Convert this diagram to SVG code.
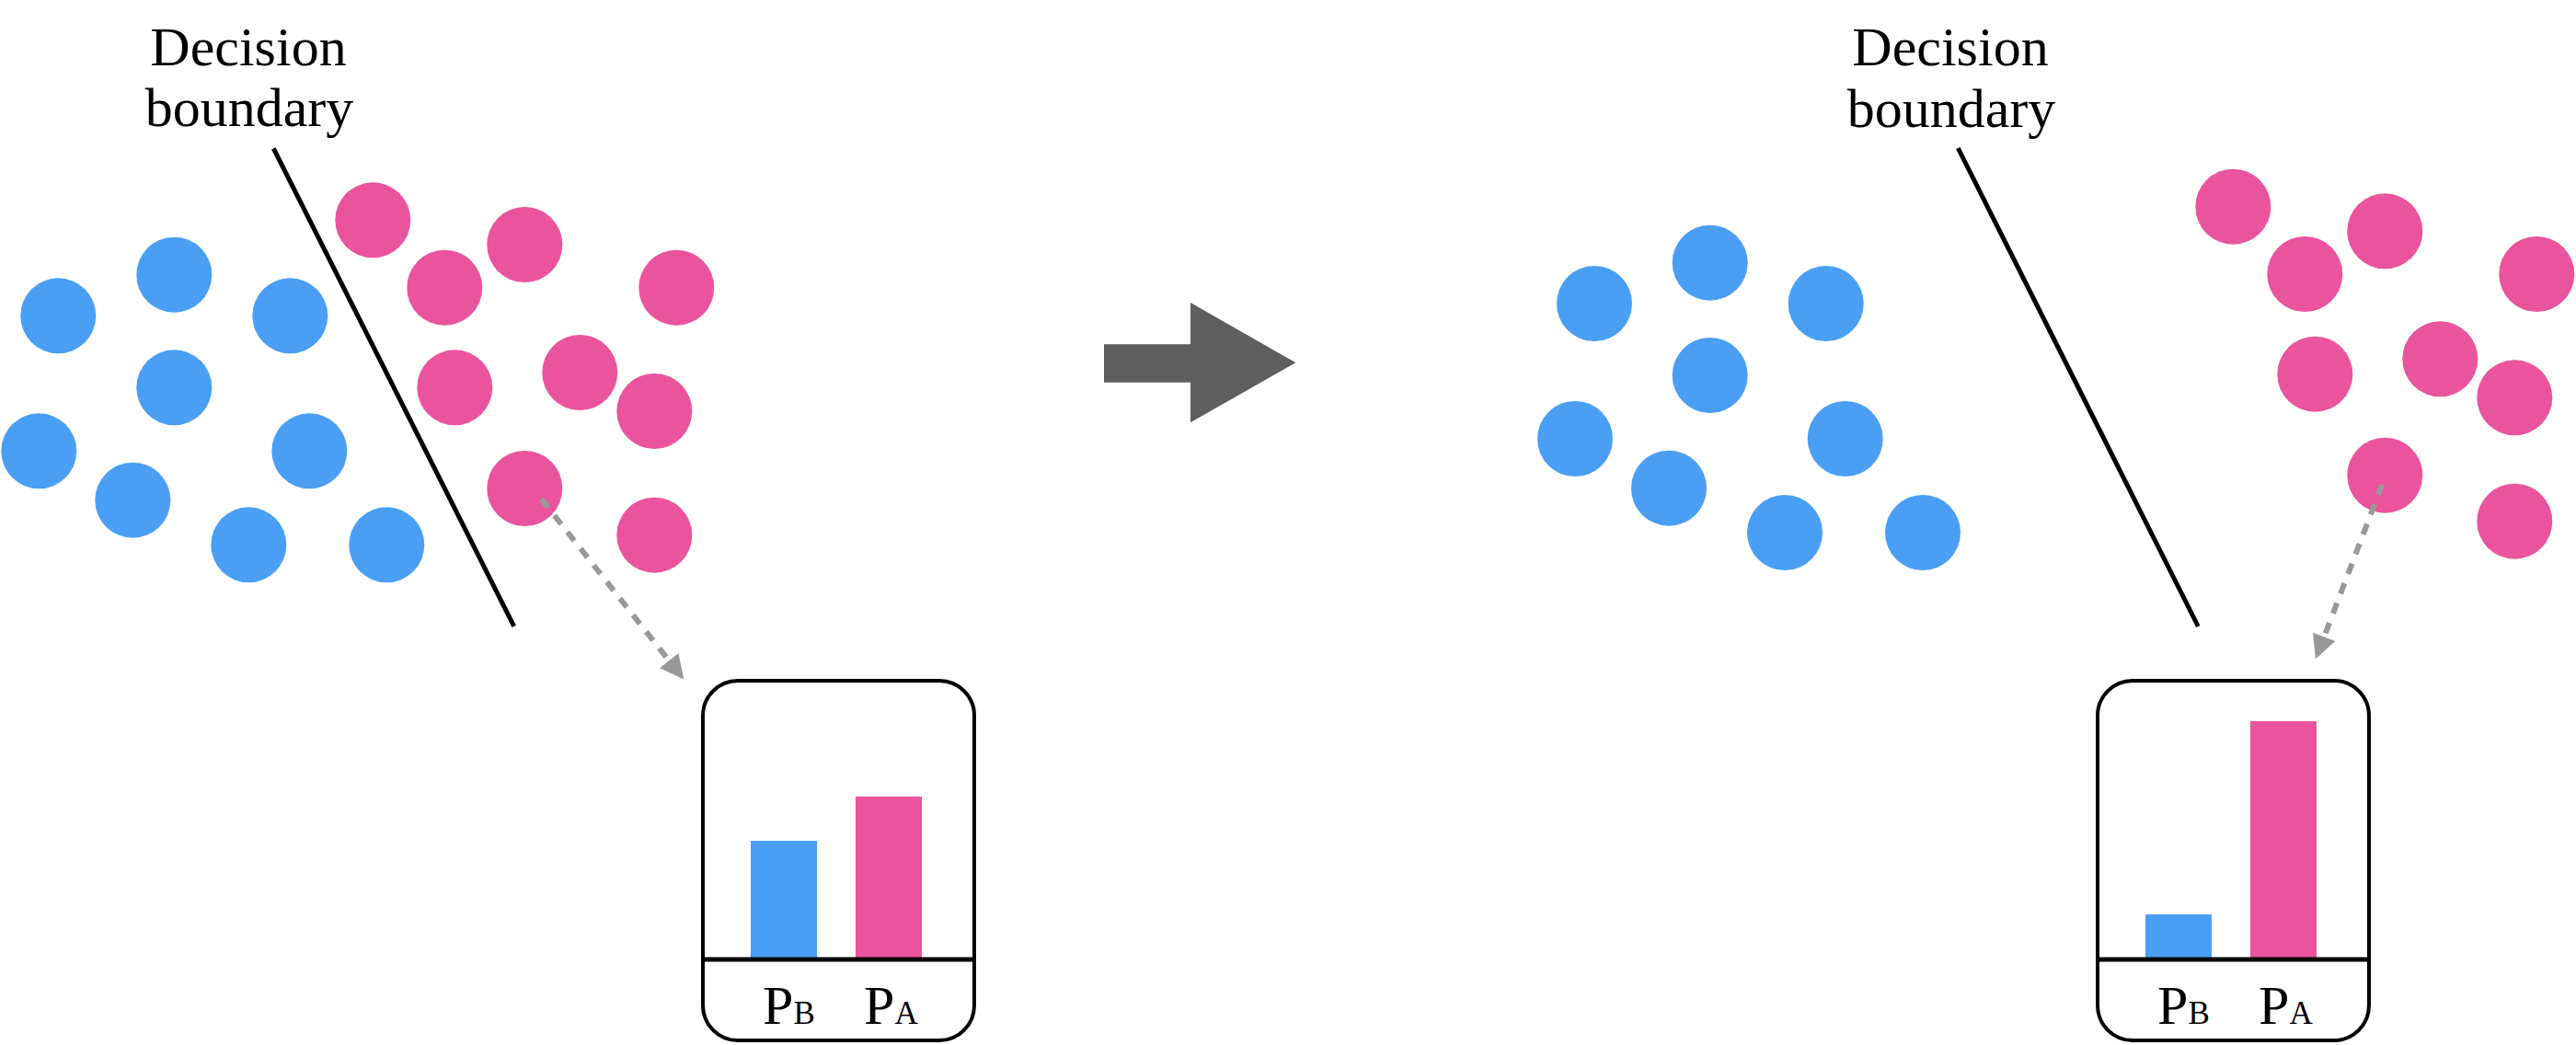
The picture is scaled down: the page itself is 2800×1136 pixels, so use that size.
<svg xmlns="http://www.w3.org/2000/svg" width="2800" height="1136" viewBox="0 0 2800 1136">
  <style>
    .lbl { font-family: "Liberation Serif", "Times New Roman", serif; font-size: 60px; fill: #000; text-anchor: middle; }
    .pl { font-family: "Liberation Serif", "Times New Roman", serif; font-size: 60px; fill: #000; }
    .sub { font-size: 35px; }
    .blue { fill: #4A9FF5; }
    .pink { fill: #EA549D; }
    .boundary { stroke: #000; stroke-width: 5; fill: none; }
    .frame { fill: #fff; stroke: #000; stroke-width: 4; }
    .axis { stroke: #000; stroke-width: 5; }
    .dash { stroke: #999; stroke-width: 6; stroke-dasharray: 12 11; fill: none; marker-end: url(#ah); }
  </style>
  <defs>
    <marker id="ah" viewBox="0 0 26 26" refX="0" refY="13" markerWidth="26" markerHeight="26" markerUnits="userSpaceOnUse" orient="auto">
      <path d="M0,0 L26,13 L0,26 Z" fill="#999"/>
    </marker>
    <circle id="dot" r="41"/>
  </defs>
  <rect width="2800" height="1136" fill="#fff"/>

  <g id="left-panel">
    <g id="left-label">
      <text class="lbl" x="270" y="71">Decision</text>
      <text class="lbl" x="271" y="137">boundary</text>
    </g>
    <line id="left-boundary" class="boundary" x1="297.3" y1="161.3" x2="558.7" y2="680.8"/>
    <g id="left-class-b">
      <use href="#dot" class="blue" x="63.3" y="343.3"/>
      <use href="#dot" class="blue" x="189.3" y="298.7"/>
      <use href="#dot" class="blue" x="315.3" y="343.3"/>
      <use href="#dot" class="blue" x="189.3" y="421.3"/>
      <use href="#dot" class="blue" x="42.3" y="490.3"/>
      <use href="#dot" class="blue" x="336.3" y="490.3"/>
      <use href="#dot" class="blue" x="144.3" y="543.7"/>
      <use href="#dot" class="blue" x="270.3" y="592.3"/>
      <use href="#dot" class="blue" x="420.3" y="592.3"/>
    </g>
    <g id="left-class-a">
      <use href="#dot" class="pink" x="405.3" y="239.3"/>
      <use href="#dot" class="pink" x="483.3" y="312.7"/>
      <use href="#dot" class="pink" x="570.3" y="266"/>
      <use href="#dot" class="pink" x="735.3" y="312.7"/>
      <use href="#dot" class="pink" x="494.3" y="421.3"/>
      <use href="#dot" class="pink" x="630.3" y="405"/>
      <use href="#dot" class="pink" x="711.3" y="447"/>
      <use href="#dot" class="pink" x="570.3" y="531"/>
      <use href="#dot" class="pink" x="711.3" y="581.7"/>
    </g>
    <g id="left-chart">
      <rect class="frame" x="764" y="740" width="295" height="391" rx="38"/>
      <rect class="blue" x="816" y="914" width="72" height="130"/>
      <rect class="pink" x="930" y="866" width="72" height="176"/>
      <line class="axis" x1="765" y1="1043" x2="1058" y2="1043"/>
      <text class="pl" x="829" y="1113">P<tspan class="sub">B</tspan></text>
      <text class="pl" x="939" y="1113">P<tspan class="sub">A</tspan></text>
    </g>
  </g>

  <g id="transition-arrow">
    <polygon points="1200,374.3 1294,374.3 1294,329 1408.3,394.3 1294,459.3 1294,415.7 1200,415.7" fill="#5E5E5E"/>
  </g>

  <g id="right-panel">
    <g id="right-label">
      <text class="lbl" x="2120" y="71">Decision</text>
      <text class="lbl" x="2121" y="137.5">boundary</text>
    </g>
    <line id="right-boundary" class="boundary" x1="2128.3" y1="161" x2="2389.3" y2="681"/>
    <g id="right-class-b">
      <use href="#dot" class="blue" x="1733" y="330"/>
      <use href="#dot" class="blue" x="1858.7" y="285.7"/>
      <use href="#dot" class="blue" x="1984.7" y="330"/>
      <use href="#dot" class="blue" x="1858.7" y="408"/>
      <use href="#dot" class="blue" x="1712" y="477"/>
      <use href="#dot" class="blue" x="2005.7" y="477"/>
      <use href="#dot" class="blue" x="1814" y="530.7"/>
      <use href="#dot" class="blue" x="1940" y="579"/>
      <use href="#dot" class="blue" x="2090" y="579"/>
    </g>
    <g id="right-class-a">
      <use href="#dot" class="pink" x="2427.3" y="224.7"/>
      <use href="#dot" class="pink" x="2505.3" y="298"/>
      <use href="#dot" class="pink" x="2592.3" y="251.3"/>
      <use href="#dot" class="pink" x="2757.3" y="298"/>
      <use href="#dot" class="pink" x="2516.3" y="406.7"/>
      <use href="#dot" class="pink" x="2652.3" y="390.3"/>
      <use href="#dot" class="pink" x="2733.3" y="432.3"/>
      <use href="#dot" class="pink" x="2592.3" y="516.7"/>
      <use href="#dot" class="pink" x="2733.3" y="566.7"/>
    </g>
    <g id="right-chart">
      <rect class="frame" x="2280" y="740" width="295" height="391" rx="38"/>
      <rect class="blue" x="2332" y="994" width="72" height="50"/>
      <rect class="pink" x="2446" y="784" width="72" height="260"/>
      <line class="axis" x1="2281" y1="1043" x2="2574" y2="1043"/>
      <text class="pl" x="2345" y="1113">P<tspan class="sub">B</tspan></text>
      <text class="pl" x="2455" y="1113">P<tspan class="sub">A</tspan></text>
    </g>
  </g>

  <g id="connectors">
    <line class="dash" x1="588.3" y1="542.3" x2="727.2" y2="718.1"/>
    <line class="dash" x1="2589.3" y1="526.7" x2="2526.2" y2="692.3"/>
  </g>
</svg>
